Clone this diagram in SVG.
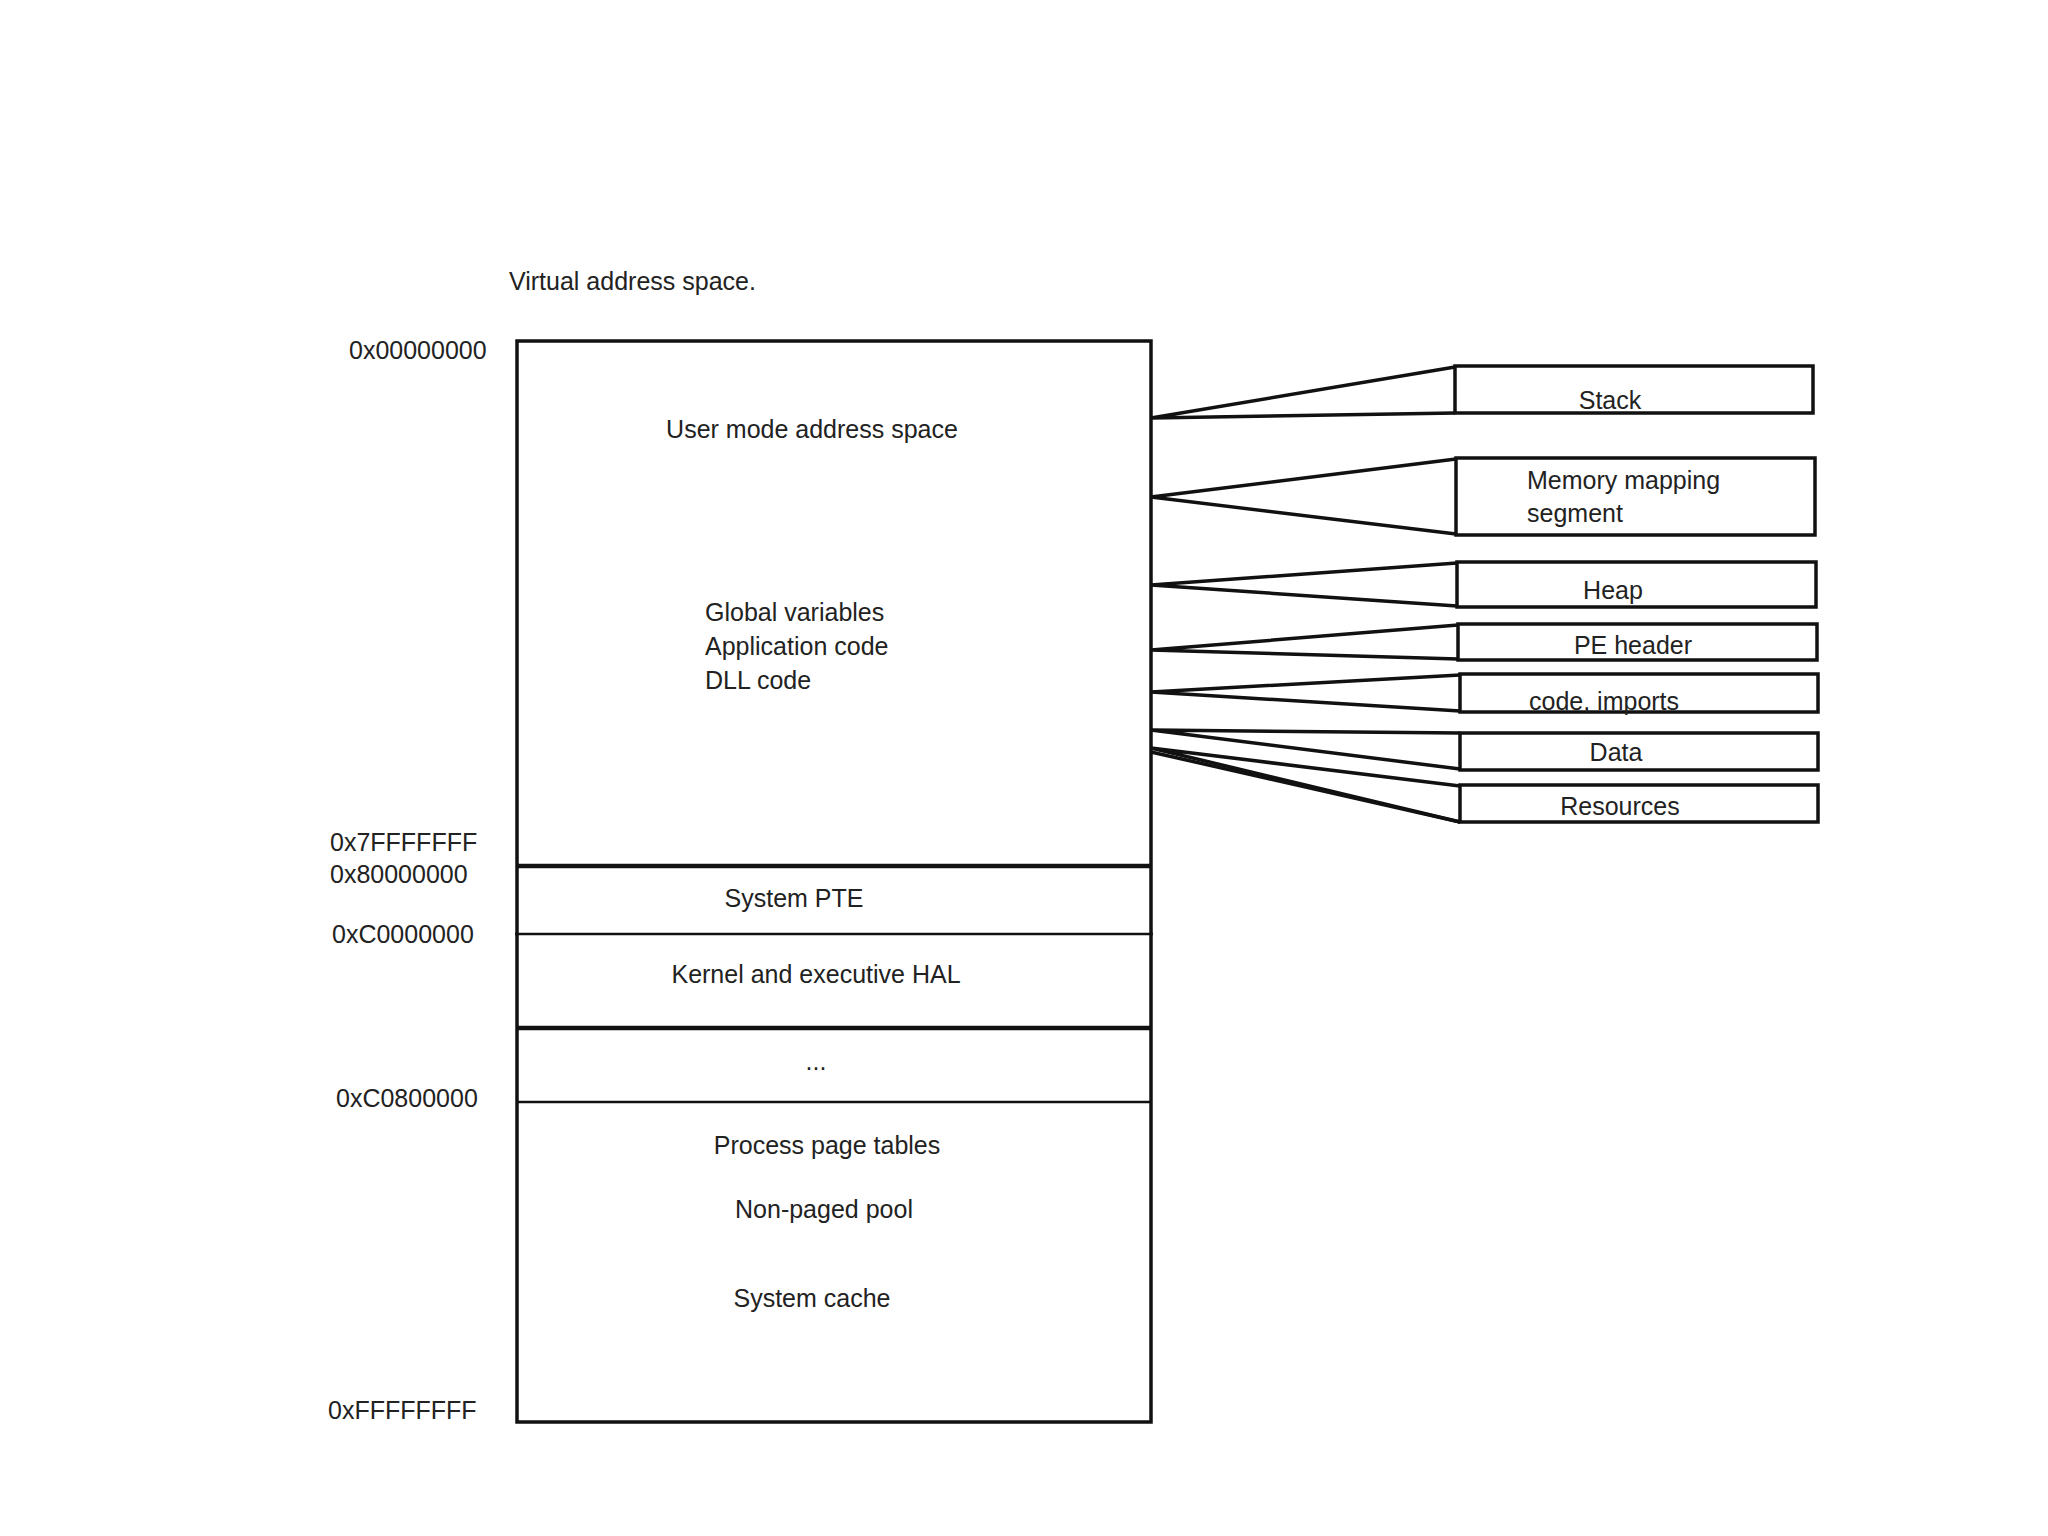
<svg xmlns="http://www.w3.org/2000/svg" width="2048" height="1536" viewBox="0 0 2048 1536">
<style>
text{font-family:"Liberation Sans",Arial,sans-serif;font-size:25px;fill:#222}
.c{text-anchor:middle}
.b{fill:#fff;stroke:#111;stroke-width:3.5}
.l{stroke:#111;stroke-width:2.5;fill:none}
.t{stroke:#111;stroke-width:4.5;fill:none}
.f{stroke:#111;stroke-width:3.5;fill:none}
</style>
<rect width="2048" height="1536" fill="#fff"/>
<text x="509" y="290">Virtual address space.</text>
<g id="addresses">
<text x="349" y="359">0x00000000</text>
<text x="330" y="851">0x7FFFFFFF</text>
<text x="330" y="883">0x80000000</text>
<text x="332" y="943">0xC0000000</text>
<text x="336" y="1107">0xC0800000</text>
<text x="328" y="1419">0xFFFFFFFF</text>
</g>
<g id="vas">
<rect class="b" x="517" y="341" width="634" height="1081"/>
<line class="t" x1="517" y1="866" x2="1151" y2="866"/>
<line class="l" x1="515" y1="934" x2="1153" y2="934"/>
<line class="t" x1="517" y1="1028" x2="1151" y2="1028"/>
<line class="l" x1="517" y1="1102" x2="1151" y2="1102"/>
<text class="c" x="812" y="438">User mode address space</text>
<text x="705" y="621">Global variables</text>
<text x="705" y="655">Application code</text>
<text x="705" y="689">DLL code</text>
<text class="c" x="794" y="907">System PTE</text>
<text class="c" x="816" y="983">Kernel and executive HAL</text>
<text class="c" x="816" y="1070">...</text>
<text class="c" x="827" y="1154">Process page tables</text>
<text class="c" x="824" y="1218">Non-paged pool</text>
<text class="c" x="812" y="1307">System cache</text>
</g>
<g id="connectors">
<polyline class="f" points="1455,367 1151,418 1455,413"/>
<polyline class="f" points="1456,459 1151,497 1456,534"/>
<polyline class="f" points="1457,563 1151,585 1457,606"/>
<polyline class="f" points="1458,625 1151,650 1458,659"/>
<polyline class="f" points="1460,675 1151,692 1460,711"/>
<polyline class="f" points="1460,733 1151,730 1460,769"/>
<polyline class="f" points="1460,786 1151,748 1460,822"/>
<line class="f" x1="1151" y1="752" x2="1460" y2="822"/>
</g>
<g id="stack"><rect class="b" x="1455" y="366" width="358" height="47"/><text class="c" x="1610" y="409">Stack</text></g>
<g id="mmap"><rect class="b" x="1456" y="458" width="359" height="77"/><text x="1527" y="489">Memory mapping</text><text x="1527" y="522">segment</text></g>
<g id="heap"><rect class="b" x="1457" y="562" width="359" height="45"/><text class="c" x="1613" y="599">Heap</text></g>
<g id="pe"><rect class="b" x="1458" y="624" width="359" height="36"/><text class="c" x="1633" y="654">PE header</text></g>
<g id="code"><rect class="b" x="1460" y="674" width="358" height="38"/><text x="1529" y="710">code, imports</text></g>
<g id="data"><rect class="b" x="1460" y="733" width="358" height="37"/><text class="c" x="1616" y="761">Data</text></g>
<g id="res"><rect class="b" x="1460" y="785" width="358" height="37"/><text class="c" x="1620" y="815">Resources</text></g>
</svg>
